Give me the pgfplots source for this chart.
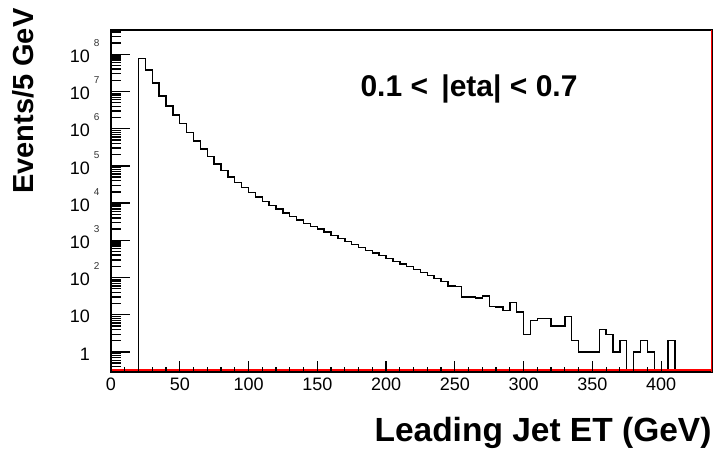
\documentclass[border=0pt]{standalone}
\usepackage{fontspec}
\setmainfont{Liberation Sans}
\usepackage{pgfplots}
\pgfplotsset{compat=1.18}
% ROOT-like exponent: small, raised, not counted in label width
\newcommand\expo[1]{\rlap{\smash{\hspace{4pt}\raisebox{16pt}{\color{black!80}\fontsize{10}{10}\selectfont #1}}}}

\begin{document}
\begin{tikzpicture}
% frame, y ticks and histogram
\begin{axis}[
  scale only axis, width=601pt, height=342pt,
  ymode=log, xmin=0, xmax=437, ymin=0.29, ymax=4.5e8,
  axis line style={line width=1.5pt},
  tick align=inside, ytick pos=left, xtick=\empty,
  major tick length=19pt, minor tick length=10pt,
  tick style={line width=1.4pt, black},
  ytick={1,10,100,1e3,1e4,1e5,1e6,1e7,1e8},
  yticklabels={1,10,10\expo{2},10\expo{3},10\expo{4},10\expo{5},10\expo{6},10\expo{7},10\expo{8}},
  minor ytick={0.3,0.4,0.5,0.6,0.7,0.8,0.9,2,3,4,5,6,7,8,9,20,30,40,50,60,70,80,90,
    200,300,400,500,600,700,800,900,2e3,3e3,4e3,5e3,6e3,7e3,8e3,9e3,
    2e4,3e4,4e4,5e4,6e4,7e4,8e4,9e4,2e5,3e5,4e5,5e5,6e5,7e5,8e5,9e5,
    2e6,3e6,4e6,5e6,6e6,7e6,8e6,9e6,2e7,3e7,4e7,5e7,6e7,7e7,8e7,9e7,2e8,3e8,4e8},
  yticklabel style={font=\fontsize{18}{18}\selectfont, inner sep=0pt, anchor=east, xshift=-21pt, yshift=-2pt},
]
\addplot[const plot mark left, line width=1.4pt, black, mark=none] coordinates {
 (0,0.05) (5,0.05) (10,0.05) (15,0.05)
 (20,7.59e7) (25,3.80e7) (30,1.70e7) (35,7.59e6) (40,4.07e6) (45,2.34e6)
 (50,1.38e6) (55,7.94e5) (60,4.68e5) (65,2.82e5) (70,1.78e5) (75,1.12e5)
 (80,7.41e4) (85,5.01e4) (90,3.55e4) (95,2.63e4) (100,1.95e4) (105,1.48e4)
 (110,1.12e4) (115,8710) (120,6920) (125,5500) (130,4370) (135,3550)
 (140,2880) (145,2400) (150,2000) (155,1660) (160,1350) (165,1120)
 (170,933) (175,776) (180,646) (185,537) (190,457) (195,389)
 (200,331) (205,275) (210,234) (215,195) (220,162) (225,135)
 (230,112) (235,93) (240,78) (245,60) (250,58) (255,30)
 (260,30) (265,28) (270,32) (275,17) (280,16) (285,13)
 (290,21) (295,12) (300,3) (305,7) (310,8) (315,8)
 (320,5) (325,5) (330,9) (335,2) (340,1) (345,1)
 (350,1) (355,4) (360,3) (365,1) (370,2) (375,0.05)
 (380,1) (385,2) (390,1) (395,0.05) (400,0.05) (405,2)
 (410,0.05) (415,0.05) (420,0.05) (425,0.05) (430,0.05) (435,0.05) (440,0.05)
};
\draw[red, line width=2pt] ([yshift=1.5pt]rel axis cs:0,0) -- ([yshift=1.5pt]rel axis cs:1,0);
\draw[red, line width=1.6pt] (rel axis cs:1,0) -- (rel axis cs:1,1);
\end{axis}
% x ticks and labels
\begin{axis}[
  scale only axis, width=601pt, height=342pt,
  xmin=0, xmax=437, ymin=0, ymax=1,
  axis line style={draw=none},
  tick align=inside, xtick pos=bottom, ytick=\empty,
  xtick={0,50,...,400}, minor x tick num=4,
  major tick length=11pt, minor tick length=5pt,
  tick style={line width=1.2pt, black},
  /pgf/number format/assume math mode=true,
  xticklabel style={font=\fontsize{18}{18}\selectfont, inner sep=0pt, anchor=north, yshift=-6pt},
]
\end{axis}
\node[anchor=base west, font=\bfseries\fontsize{30}{30}\selectfont] at (246pt,275pt) {0.1 <\, |eta| < 0.7};
\node[rotate=90, anchor=base east, font=\bfseries\fontsize{29}{29}\selectfont] at (-77pt,367pt) {Events/5 GeV};
\node[anchor=base east, font=\bfseries\fontsize{33.5}{33.5}\selectfont] at (604pt,-70pt) {Leading Jet ET (GeV)};
\pgfresetboundingbox
\path (-111pt,-77pt) rectangle (604pt,372pt);
\end{tikzpicture}
\end{document}
